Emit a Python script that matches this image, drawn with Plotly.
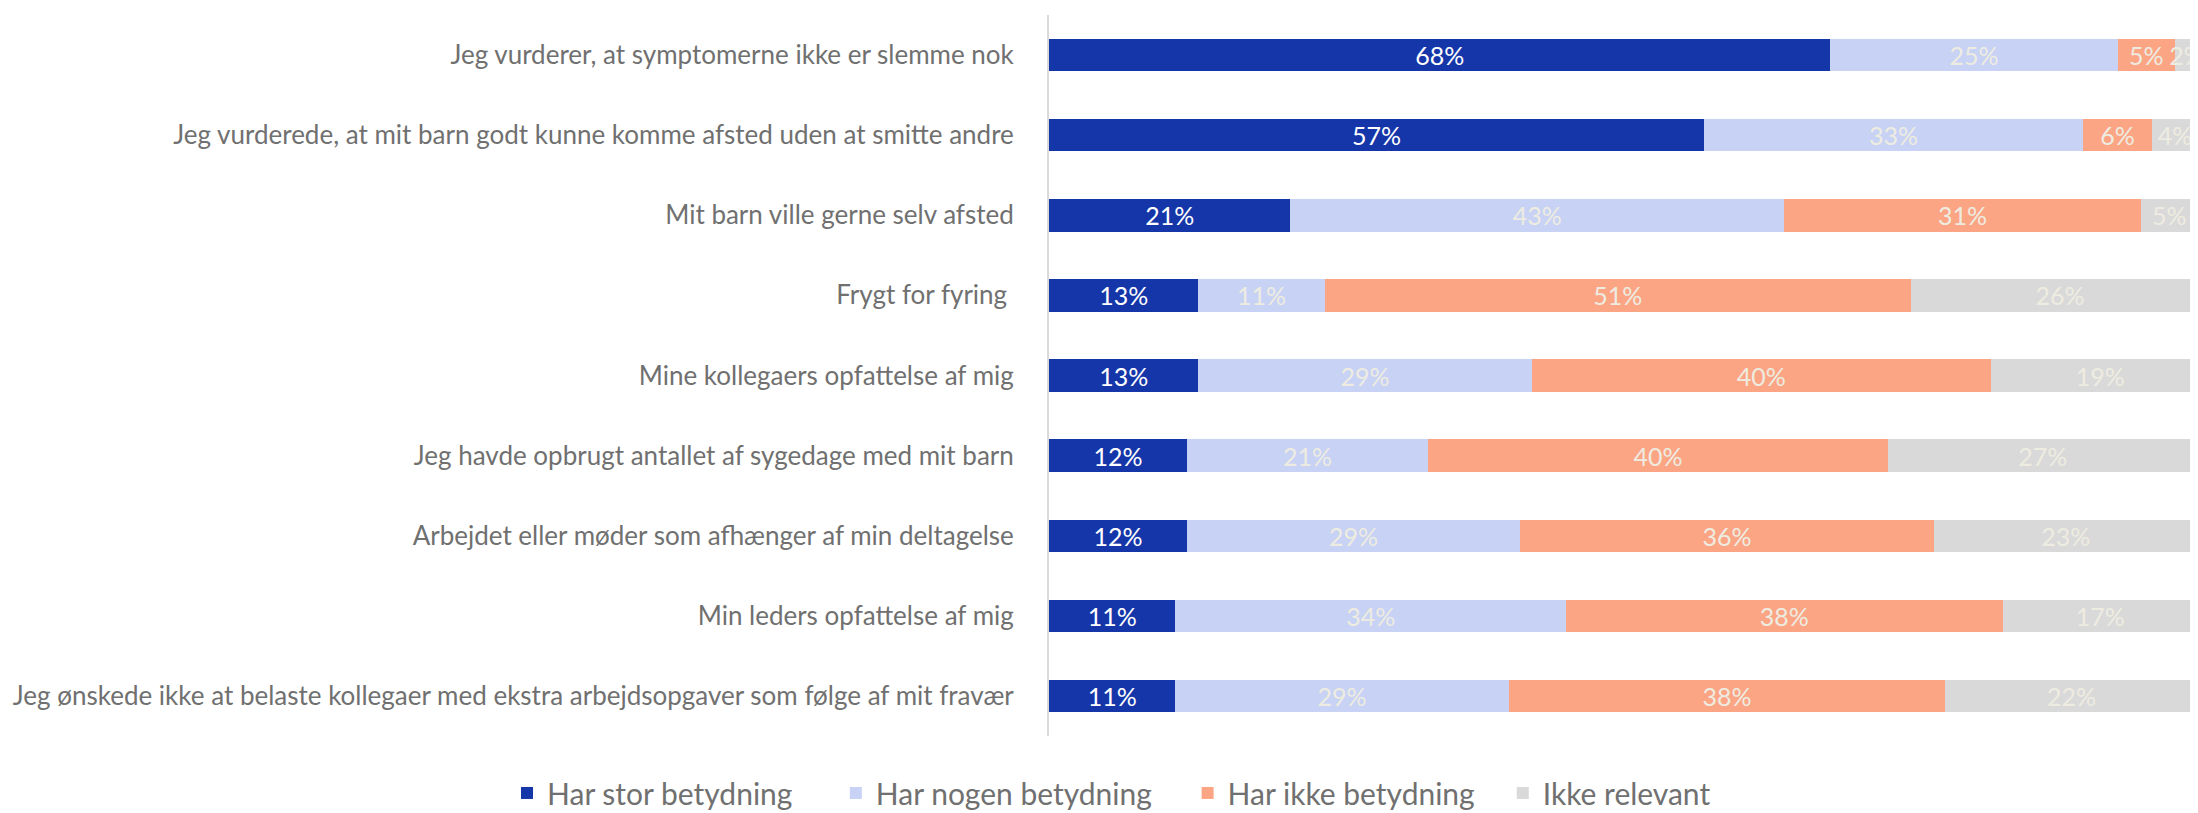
import plotly.graph_objects as go

categories = [
    "Jeg vurderer, at symptomerne ikke er slemme nok",
    "Jeg vurderede, at mit barn godt kunne komme afsted uden at smitte andre",
    "Mit barn ville gerne selv afsted",
    "Frygt for fyring ",
    "Mine kollegaers opfattelse af mig",
    "Jeg havde opbrugt antallet af sygedage med mit barn",
    "Arbejdet eller møder som afhænger af min deltagelse",
    "Min leders opfattelse af mig",
    "Jeg ønskede ikke at belaste kollegaer med ekstra arbejdsopgaver som følge af mit fravær",
]

stor = [68, 57, 21, 13, 13, 12, 12, 11, 11]
nogen = [25, 33, 43, 11, 29, 21, 29, 34, 29]
ikke_betydning = [5, 6, 31, 51, 40, 40, 36, 38, 38]
ikke_relevant = [2, 4, 5, 26, 19, 27, 23, 17, 22]

series_names = ["Har stor betydning", "Har nogen betydning", "Har ikke betydning", "Ikke relevant"]
series_values = [stor, nogen, ikke_betydning, ikke_relevant]
colors = ["#1536A9", "#C7D2F5", "#FCA584", "#D9D9D9"]
text_colors = ["#FFFFFF", "#EEECE1", "#EEECE1", "#EEECE1"]

legend_pads = [5, 4, 3, 0]  # non-breaking spaces after each legend entry (entry spacing)

fig = go.Figure()
for name, vals, col, tcol, npad in zip(series_names, series_values, colors, text_colors, legend_pads):
    fig.add_trace(go.Bar(
        y=categories, x=vals, name=name + "\u00a0" * npad,
        orientation="h",
        marker=dict(color=col, line=dict(width=0)),
        text=[f"{v}%" for v in vals],
        textposition="inside", insidetextanchor="middle", textangle=0,
        textfont=dict(color=tcol, size=25, family="Lato"),
        hoverinfo="skip",
    ))

# page body has an 8px margin: compensate so the chart lands where the reference has it
fig.update_layout(
    barmode="stack",
    bargap=0.595,
    width=2190, height=813,
    margin=dict(l=1041, r=0, t=7, b=85),
    paper_bgcolor="white", plot_bgcolor="white",
    font=dict(family="Lato", color="#707070"),
    uniformtext=dict(minsize=25, mode="show"),
    showlegend=True,
    legend=dict(
        orientation="h",
        x=-0.4717, xanchor="left", y=-0.079, yanchor="middle",
        font=dict(size=30, color="#707070", family="Lato"),
        traceorder="normal", itemwidth=30,
    ),
)
fig.update_xaxes(range=[0, 100], visible=False, showgrid=False, zeroline=False)
fig.update_yaxes(
    autorange="reversed", showgrid=False, zeroline=False,
    showline=True, linecolor="#D9D9D9", linewidth=2,
    ticks="", ticklabelstandoff=28,
    tickfont=dict(size=26, color="#707070", family="Lato"),
)

fig.write_html("out.html")
